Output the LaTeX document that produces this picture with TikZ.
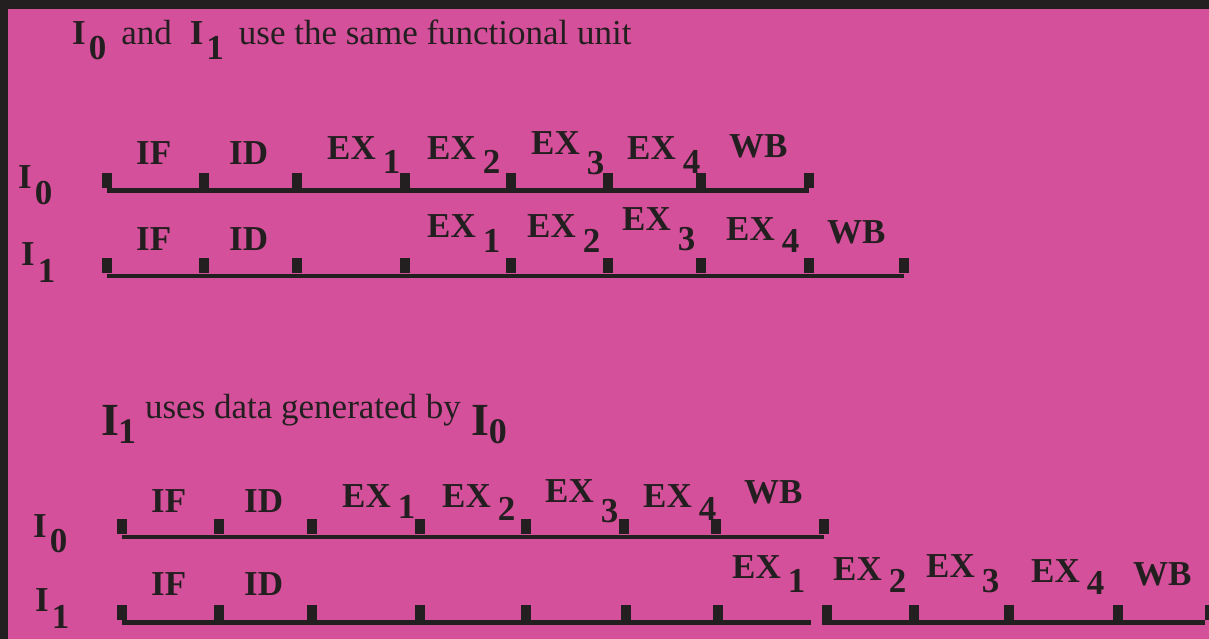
\documentclass[tikz,border=0pt]{standalone}
\usepackage{fontspec}
\setmainfont{Liberation Serif}
\usepackage{xcolor}
\usepackage{tikz}
\definecolor{mypink}{RGB}{213,80,154}
\definecolor{mydark}{RGB}{35,31,32}
\tikzset{
  tick/.style={rectangle, fill=mydark, inner sep=0pt,
    minimum width=10pt, minimum height=15pt, anchor=south},
  bar/.style={line width=4.5pt, color=mydark},
  stage/.style={font=\fontsize{35}{42}\selectfont\bfseries, text=mydark,
    inner sep=0pt, anchor=base west},
  caption/.style={font=\fontsize{35}{42}\selectfont, text=mydark,
    inner sep=0pt, anchor=base west}
}
\newcommand{\stg}[3][14pt]{#2\hspace{7pt}\raisebox{-#1}{#3}}
\newcommand{\ins}[2][16pt]{I\hspace{3pt}\raisebox{-#1}{#2}}
\newcommand{\bigins}[1]{\raisebox{-17pt}{\fontsize{46}{50}\selectfont\bfseries I}\hspace{-1pt}\raisebox{-25pt}{\fontsize{36}{40}\selectfont\bfseries #1}}

\begin{document}
\begin{tikzpicture}[x=1pt, y=-1pt]
  % Frame
  \fill[mydark] (0,0) rectangle (1209,639);
  \fill[mypink] (8,9) rectangle (1209,639);
  \useasboundingbox (0,0) rectangle (1209,639);

  % Same functional unit
  \node[caption] (title1) at (72,45) {\textbf{\ins[15pt]{0}}\hspace{15pt}and\hspace{18pt}\textbf{\ins[15pt]{1}}\hspace{15pt}use the same functional unit};

  \node[stage] (fa-lab) at (18,189) {\ins[16pt]{0}};
  \foreach \x [count=\i] in {106.5,204,297,405,511,608,701,809}
    \node[tick] (fa\i) at (\x,188.5) {};
  \draw[bar] ([yshift=-2.25pt]fa1.south) -- ([yshift=-2.25pt]fa8.south);
  \node[stage] (fa-if) at (136,165) {IF};
  \node[stage] (fa-id) at (229,165) {ID};
  \node[stage] (fa-ex1) at (327,160) {\stg{EX}{1}};
  \node[stage] (fa-ex2) at (427,160) {\stg{EX}{2}};
  \node[stage] (fa-ex3) at (531,155) {\stg[20pt]{EX}{3}};
  \node[stage] (fa-ex4) at (627,160) {\stg{EX}{4}};
  \node[stage] (fa-wb) at (729,158) {WB};

  \node[stage] (fb-lab) at (21,265) {\ins[17pt]{1}};
  \foreach \x [count=\i] in {106.5,204,297,405,511,608,701,809,904}
    \node[tick] (fb\i) at (\x,273.5) {};
  \draw[bar] ([yshift=-2.25pt]fb1.south) -- ([yshift=-2.25pt]fb9.south);
  \node[stage] (fb-if) at (136,250) {IF};
  \node[stage] (fb-id) at (229,250) {ID};
  \node[stage] (fb-ex1) at (427,237) {\stg[15pt]{EX}{1}};
  \node[stage] (fb-ex2) at (527,237) {\stg[15pt]{EX}{2}};
  \node[stage] (fb-ex3) at (622,230) {\stg[20pt]{EX}{3}};
  \node[stage] (fb-ex4) at (726,240) {\stg[13pt]{EX}{4}};
  \node[stage] (fb-wb) at (827,243) {WB};

  % Data dependence
  \node[caption] (title2) at (101,418) {\bigins{1}\hspace{9pt}uses data generated by\hspace{11pt}\bigins{0}};

  \node[stage] (da-lab) at (33,537) {\ins[15pt]{0}};
  \foreach \x [count=\i] in {122,219,312,420,525.5,624,716,824}
    \node[tick] (da\i) at (\x,534.5) {};
  \draw[bar] ([yshift=-2.25pt]da1.south) -- ([yshift=-2.25pt]da8.south);
  \node[stage] (da-if) at (151,512) {IF};
  \node[stage] (da-id) at (244,512) {ID};
  \node[stage] (da-ex1) at (342,507) {\stg[11pt]{EX}{1}};
  \node[stage] (da-ex2) at (442,507) {\stg[13pt]{EX}{2}};
  \node[stage] (da-ex3) at (545,502) {\stg[20pt]{EX}{3}};
  \node[stage] (da-ex4) at (643,507) {\stg[13pt]{EX}{4}};
  \node[stage] (da-wb) at (744,503) {WB};

  \node[stage] (db-lab) at (35,611) {\ins[17pt]{1}};
  \foreach \x [count=\i] in {122,219,312,420,525.5,626,718,827,914,1009,1118,1210}
    \node[tick] (db\i) at (\x,620) {};
  \coordinate (gap) at (811,622.25);
  \draw[bar] ([yshift=-2.25pt]db1.south) -- (gap);
  \draw[bar] ([yshift=-2.25pt]db8.south west) -- ([yshift=-2.25pt]db12.south west);
  \node[stage] (db-if) at (151,595) {IF};
  \node[stage] (db-id) at (244,595) {ID};
  \node[stage] (db-ex1) at (732,578) {\stg{EX}{1}};
  \node[stage] (db-ex2) at (833,580) {\stg[12pt]{EX}{2}};
  \node[stage] (db-ex3) at (926,577) {\stg[15pt]{EX}{3}};
  \node[stage] (db-ex4) at (1031,582) {\stg[12pt]{EX}{4}};
  \node[stage] (db-wb) at (1133,585) {WB};
\end{tikzpicture}
\end{document}
